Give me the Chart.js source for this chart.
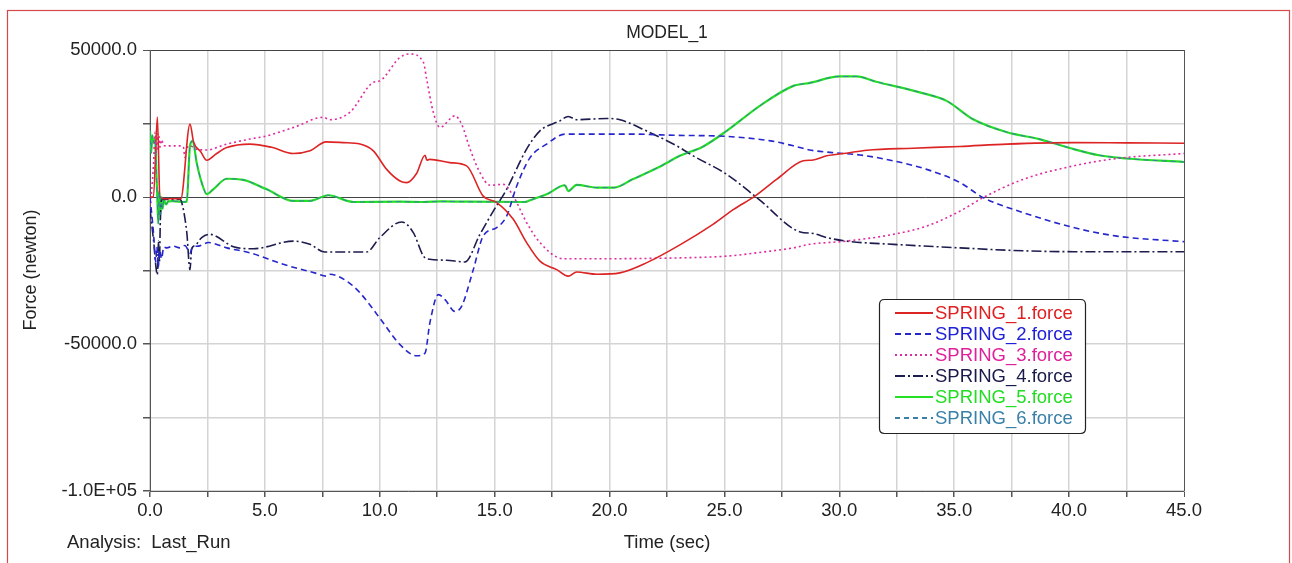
<!DOCTYPE html>
<html>
<head>
<meta charset="utf-8">
<title>MODEL_1</title>
<script src="https://cdn.jsdelivr.net/npm/chart.js@4"></script>
<style>
  html, body { margin: 0; padding: 0; background: #fff; }
  #wrap { width: 1292px; height: 563px; position: relative; }
</style>
</head>
<body>
<div id="wrap"><canvas id="springChart" width="1292" height="563"></canvas></div>
<script>
// values (time in sec, force in newton)
const seriesNames = ['SPRING_1.force', 'SPRING_2.force', 'SPRING_3.force', 'SPRING_4.force', 'SPRING_5.force', 'SPRING_6.force'];

const t1 = [0, 0.15, 0.32, 0.43, 0.6, 1.34, 1.74, 1.9, 2.2, 2.47, 2.9, 3.34, 4.35, 5.3, 6.24, 6.96, 7.66, 8.4, 9.14, 9.72, 10.3, 10.88, 11.17, 11.6, 11.97, 12.05, 12.18, 13.05, 13.78, 14.5, 15.09, 15.81, 16.39, 16.97, 17.7, 18.2, 18.57, 19.44, 20.45, 21.6, 23.1, 24.5, 25.4, 26.33, 27.27, 28.43, 28.86, 29.45, 30.3, 31.2, 33.2, 35.25, 37.3, 40.2, 42.5, 45];
const f1 = [0, 0, 27200, 0, -600, -600, 24800, 18600, 15500, 12500, 14800, 16800, 18000, 16900, 14800, 15700, 18750, 18500, 18000, 15700, 9400, 5450, 4900, 8000, 14200, 12500, 12800, 11700, 10600, 300, -1900, -7600, -15500, -21800, -24700, -26900, -25500, -26300, -25800, -22400, -16100, -9300, -4200, 300, 6000, 12300, 12600, 14000, 14900, 15900, 16600, 17200, 18000, 18500, 18400, 18300];

const t2 = [0, 0.15, 0.25, 0.3, 0.36, 0.42, 0.5, 0.6, 0.73, 1.0, 1.3, 1.52, 1.74, 1.85, 2.1, 2.54, 3.34, 4.35, 5.8, 7.25, 7.66, 7.83, 8.56, 9.14, 10.0, 10.88, 11.6, 11.97, 12.18, 12.55, 12.84, 13.27, 13.56, 14.07, 14.5, 15.09, 15.52, 15.96, 16.54, 17.26, 18.06, 18.7, 20.9, 22.8, 25.1, 27.0, 28.0, 28.7, 29.7, 30.9, 32.35, 33.8, 35.25, 36.26, 38.0, 40.2, 42.07, 45];
const f2 = [0, -12000, -22000, -17000, -24000, -18000, -21000, -17000, -17300, -16700, -17300, -16500, -19000, -17000, -16700, -15500, -17300, -19000, -22900, -26000, -26900, -26300, -28600, -32600, -41200, -50200, -54000, -53100, -42800, -33200, -34900, -38900, -37200, -24700, -13300, -10400, -6500, 3750, 13400, 18000, 21400, 21400, 21400, 21000, 20600, 19100, 17400, 16000, 15100, 14300, 12300, 9400, 4900, -200, -5300, -10400, -13300, -15200];

const t3 = [0, 0.15, 0.22, 0.27, 0.31, 0.36, 0.4, 0.44, 0.5, 0.6, 0.73, 1.3, 1.45, 1.52, 1.6, 1.74, 2.0, 2.47, 3.34, 4.35, 5.08, 6.3, 7.54, 7.83, 8.7, 9.72, 10.0, 10.88, 11.31, 11.9, 12.04, 12.33, 12.62, 13.27, 13.56, 13.93, 14.36, 14.8, 15.38, 15.81, 16.39, 16.97, 17.99, 19.44, 23.06, 25.1, 27.0, 28.0, 28.7, 30.3, 32.35, 33.8, 35.25, 36.26, 38.0, 40.2, 42.07, 45];
const f3 = [-4000, 10600, 22000, 15000, 21500, 16000, 20500, 17000, 19500, 17500, 17400, 17400, 17000, 13500, 16500, 17400, 16300, 16000, 18000, 19700, 20800, 23800, 27100, 26300, 28800, 39000, 39500, 47500, 48650, 45800, 40100, 28800, 23700, 27600, 24800, 16300, 8300, 4000, 4300, 300, -8700, -15500, -21000, -21000, -20700, -20100, -18400, -17300, -16100, -15000, -12700, -9900, -4800, -200, 6000, 10600, 13100, 14800];

const t4 = [0, 0.15, 0.32, 0.37, 0.41, 0.45, 0.5, 1.3, 1.38, 1.6, 1.74, 1.81, 1.96, 2.25, 2.6, 3.63, 4.5, 6.24, 6.96, 7.6, 9.43, 10.0, 10.95, 11.46, 11.9, 12.18, 12.9, 13.7, 14.36, 14.94, 15.52, 16.39, 16.97, 17.84, 18.2, 18.57, 19.87, 20.45, 21.6, 23.06, 23.64, 25.1, 26.5, 28.3, 28.86, 29.45, 30.3, 32.35, 35.25, 37.3, 40.2, 45];
const f4 = [-4000, -14400, -26400, -15000, -22000, -8000, -800, -800, -1800, -12000, -24700, -17800, -16500, -13800, -12700, -16900, -17600, -15000, -16100, -18700, -18700, -13800, -8500, -12100, -20100, -21200, -21500, -22100, -12700, -4800, 2600, 16300, 22500, 25900, 27400, 26300, 26700, 26300, 22500, 16800, 14000, 7700, -800, -11900, -12400, -13800, -15000, -16100, -17300, -18100, -18600, -18600];

const t5 = [0, 0.05, 0.1, 0.15, 0.22, 0.28, 0.32, 0.36, 0.4, 0.45, 0.5, 0.55, 0.6, 0.7, 0.8, 1.0, 1.45, 1.6, 1.74, 1.86, 2.03, 2.25, 2.47, 2.75, 3.34, 4.06, 5.08, 6.24, 6.96, 7.76, 8.85, 10.88, 11.9, 12.7, 13.8, 16.3, 16.54, 17.26, 18.06, 18.2, 18.57, 19.44, 20.2, 21.0, 22.2, 23.06, 24.08, 25.1, 26.54, 28.0, 28.72, 30.0, 30.75, 31.6, 33.5, 34.67, 35.8, 37.3, 38.7, 40.2, 41.3, 42.5, 45];
const f5 = [22500, 15000, 21000, 18500, 19700, 8000, -800, -9000, 2000, -6000, 0, -4000, -1000, -2500, -1500, -1400, -1700, -1500, 17400, 19100, 11700, 4900, 1000, 2600, 6200, 5800, 2600, -1350, -1350, 600, -1700, -1600, -1700, -1500, -1600, -1700, -1100, 900, 4000, 2000, 4100, 3200, 3200, 6000, 10400, 14000, 17200, 22500, 31000, 37800, 38800, 41000, 41000, 39200, 35600, 32700, 26500, 22000, 19700, 16300, 14200, 13100, 11900];

// SPRING_6 lies exactly on top of SPRING_5 in the picture
const t6 = t5;
const f6 = f5;

const xTicks = [0, 5, 10, 15, 20, 25, 30, 35, 40, 45];
const yTickLabels = { '50000': '50000.0', '0': '0.0', '-50000': '-50000.0', '-100000': '-1.0E+05' };

function toPoints(ts, fs) {
    return ts.map((t, i) => ({ x: t, y: fs[i] }));
}

const styles = [
    { color: '#dc2424', dash: [], width: 1.6 },
    { color: '#2626cc', dash: [6, 4], width: 1.6 },
    { color: '#de2aa0', dash: [2, 3], width: 1.6 },
    { color: '#1c1c4e', dash: [10, 3, 2, 3], width: 1.6 },
    { color: '#22e022', dash: [], width: 2.2 },
    { color: '#3a7fa6', dash: [5, 4], width: 1.0 }
];
const textColors = ['#e02020', '#2020d8', '#e0209a', '#1a1a4a', '#22dd22', '#3a80a8'];

const allT = [t1, t2, t3, t4, t5, t6];
const allF = [f1, f2, f3, f4, f5, f6];

const datasets = seriesNames.map((name, i) => ({
    label: name,
    data: toPoints(allT[i], allF[i]),
    borderColor: styles[i].color,
    borderDash: styles[i].dash,
    borderWidth: styles[i].width,
    showLine: true,
    pointRadius: 0,
    fill: false,
    cubicInterpolationMode: 'monotone',
    order: i === 5 ? 0 : i + 1
}));

const FONT = "'Liberation Sans', Arial, sans-serif";

const decorations = {
    id: 'decorations',
    afterDraw(chart) {
        const c = chart.ctx;
        c.save();
        // outer red frame
        c.strokeStyle = '#d44a4a';
        c.lineWidth = 1.2;
        c.strokeRect(7.5, 10.5, 1282, 570);

        c.fillStyle = '#222';
        c.textBaseline = 'middle';
        c.textAlign = 'center';
        c.font = '17.5px ' + FONT;
        c.fillText('MODEL_1', 667, 33);
        c.font = '18.5px ' + FONT;
        c.fillText('Time (sec)', 667, 543);
        c.textAlign = 'left';
        c.fillText('Analysis:  Last_Run', 67, 543);

        c.save();
        c.translate(31, 270);
        c.rotate(-Math.PI / 2);
        c.textAlign = 'center';
        c.font = '18px ' + FONT;
        c.fillText('Force (newton)', 0, 0);
        c.restore();

        // legend box
        const bx = 879.5, by = 299.5, bw = 206, bh = 134, r = 5;
        c.beginPath();
        c.moveTo(bx + r, by);
        c.lineTo(bx + bw - r, by);
        c.quadraticCurveTo(bx + bw, by, bx + bw, by + r);
        c.lineTo(bx + bw, by + bh - r);
        c.quadraticCurveTo(bx + bw, by + bh, bx + bw - r, by + bh);
        c.lineTo(bx + r, by + bh);
        c.quadraticCurveTo(bx, by + bh, bx, by + bh - r);
        c.lineTo(bx, by + r);
        c.quadraticCurveTo(bx, by, bx + r, by);
        c.fillStyle = '#fff';
        c.fill();
        c.strokeStyle = '#222';
        c.lineWidth = 1.2;
        c.stroke();

        c.font = '18.5px ' + FONT;
        c.textAlign = 'left';
        seriesNames.forEach((name, i) => {
            const y = 313 + i * 21;
            c.beginPath();
            c.setLineDash(styles[i].dash);
            c.strokeStyle = styles[i].color;
            c.lineWidth = 2;
            c.moveTo(895, y);
            c.lineTo(933, y);
            c.stroke();
            c.setLineDash([]);
            c.fillStyle = textColors[i];
            c.fillText(name, 935, y + 1);
        });
        c.restore();
    }
};

const ctx = document.getElementById('springChart');
new Chart(ctx, {
    type: 'scatter',
    data: { datasets: datasets },
    options: {
        responsive: false,
        animation: false,
        layout: { padding: { left: 0, top: 50, right: 108, bottom: 32 } },
        plugins: {
            legend: { display: false },
            tooltip: { enabled: false },
            title: { display: false }
        },
        scales: {
            x: {
                type: 'linear',
                min: 0,
                max: 45,
                afterFit: scale => { scale.height = 40; },
                afterBuildTicks: scale => {
                    const ticks = [];
                    for (let v = 0; v <= 45; v += 2.5) ticks.push({ value: v });
                    scale.ticks = ticks;
                },
                ticks: {
                    autoSkip: false,
                    maxRotation: 0,
                    padding: 3,
                    color: '#222',
                    font: { family: FONT, size: 18.5 },
                    callback: v => xTicks.includes(v) ? v.toFixed(1) : ''
                },
                grid: {
                    color: c => c.tick && c.tick.value === 45 ? '#555' : '#d4d4d4',
                    lineWidth: c => c.tick && c.tick.value === 45 ? 1 : 1.5,
                    tickLength: 6,
                    tickColor: '#555'
                },
                border: { color: '#555', width: 1 }
            },
            y: {
                type: 'linear',
                min: -100000,
                max: 50000,
                afterFit: scale => { scale.width = 150; },
                ticks: {
                    stepSize: 25000,
                    padding: 6,
                    color: '#222',
                    font: { family: FONT, size: 18.5 },
                    callback: v => yTickLabels[String(v)] || ''
                },
                grid: {
                    color: c => (c.tick && (c.tick.value === 0 || c.tick.value === 50000)) ? '#444' : '#d4d4d4',
                    lineWidth: c => (c.tick && (c.tick.value === 0 || c.tick.value === 50000)) ? 1 : 1.5,
                    tickLength: 7,
                    tickColor: '#555'
                },
                border: { color: '#555', width: 1 }
            }
        }
    },
    plugins: [decorations]
});
</script>
</body>
</html>
